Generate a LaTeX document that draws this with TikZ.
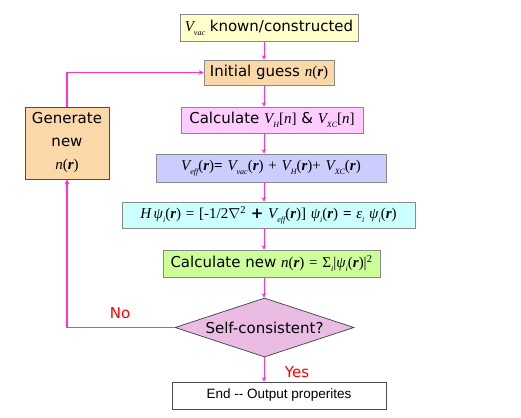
\documentclass[tikz,border=0pt]{standalone}
\usepackage{fontspec}
\setmainfont{DejaVu Sans}
\newfontfamily\tms{Liberation Serif}
\newfontfamily\arl{Liberation Sans}
\usetikzlibrary{shapes.geometric,arrows.meta}
\definecolor{arr}{HTML}{FF33CC}
\definecolor{cyel}{HTML}{FFFFCC}
\definecolor{cora}{HTML}{FBD8A8}
\definecolor{cpink}{HTML}{FFCCFF}
\definecolor{cblue}{HTML}{CCCCFF}
\definecolor{ccyan}{HTML}{CCFFFF}
\definecolor{cgreen}{HTML}{CCFF99}
\definecolor{cdia}{HTML}{EABCE4}
\definecolor{bord}{HTML}{8A8A8A}
\newcommand\mi[1]{{\tms\itshape #1}}
\newcommand\rr{{\tms\bfseries\itshape r}}
\newcommand\sub[1]{\raisebox{-0.45ex}{\fontsize{8}{8}\selectfont\tms\itshape #1}}
\newcommand\pr[1]{{\tms(}#1{\tms)}}
\begin{document}
\begin{tikzpicture}[x=1pt,y=-1pt,
  box/.style={draw=bord, line width=0.7pt, inner sep=0pt, font=\fontsize{15}{17}\selectfont},
  conn/.style={draw=arr, line width=0.7pt, -{Stealth[length=4.5pt,width=4.5pt]}},
  loopc/.style={draw=arr, line width=1.4pt, -{Stealth[length=5pt,width=5pt]}},
  lbl/.style={text=red, font=\fontsize{15}{17}\selectfont, inner sep=0pt}]
\useasboundingbox (0,0) rectangle (521,417);
\coordinate (axis) at (264,0);
\node[box, fill=cyel, minimum width=178pt, minimum height=27pt] (b1) at (269,27.5) {\mi{V}\sub{vac} known/constructed};
\node[box, fill=cora, minimum width=130pt, minimum height=25pt] (b2) at (269,72.5) {Initial guess \mi{n}\pr{\rr}};
\node[box, fill=cpink, minimum width=182pt, minimum height=26pt] (b3) at (272,120) {Calculate \mi{V}\sub{H}{\tms [}\mi{n}{\tms ]} \& \mi{V}\sub{XC}{\tms [}\mi{n}{\tms ]}};
\node[box, fill=cblue, minimum width=230pt, minimum height=28pt] (b4) at (271,168) {\mi{V}\sub{eff}\pr{\rr}{\tms\bfseries =} \mi{V}\sub{vac}\pr{\rr} {\tms +} \mi{V}\sub{H}\pr{\rr}{\tms +} \mi{V}\sub{XC}\pr{\rr}};
\node[box, fill=ccyan, minimum width=293pt, minimum height=26pt] (b5) at (268.5,215) {\mi{H}\,\mi{ψ}\sub{i}\pr{\rr} {\tms =} {\tms [-1/2}$\nabla$\textsuperscript{\tms 2} {\bfseries +} \mi{V}\sub{eff}\pr{\rr}{\tms ]} \mi{ψ}\sub{i}\pr{\rr} {\tms\bfseries =} \mi{ε}\sub{i} \mi{ψ}\sub{i}\pr{\rr}};
\node[box, fill=cgreen, minimum width=217pt, minimum height=27pt] (b6) at (271.5,263.5) {Calculate new \mi{n}\pr{\rr} {\tms =} {\tms Σ}\sub{i}{\tms |}\mi{ψ}\sub{i}\pr{\rr}{\tms |}\textsuperscript{\tms 2}};
\node[box, shape=diamond, fill=cdia, draw=black!75, shape aspect=3.03, minimum width=179pt, minimum height=59pt] (dia) at (264.5,327.5) {Self-consistent?};
\node[box, fill=white, draw=black!70, minimum width=214pt, minimum height=27pt, font=\arl\fontsize{13.5}{15}\selectfont] (end) at (279,395.5) {End -- Output properites};
\node[box, fill=cora, draw=black!70, minimum width=84pt, minimum height=72pt, align=center, font=\fontsize{15}{23}\selectfont] (gen) at (67,143) {Generate\\new\\\mi{n}\pr{\rr}};
\node[lbl] (no) at (120,313) {No};
\node[lbl] (yes) at (297,372) {Yes};
\draw[conn] (b1.south -| axis) -- (b2.north -| axis);
\draw[conn] (b2.south -| axis) -- (b3.north -| axis);
\draw[conn] (b3.south -| axis) -- (b4.north -| axis);
\draw[conn] (b4.south -| axis) -- (b5.north -| axis);
\draw[conn] (b5.south -| axis) -- (b6.north -| axis);
\draw[conn] (b6.south -| axis) -- (dia.north -| axis);
\draw[conn] (dia.south -| axis) -- (end.north -| axis);
\draw[loopc] (dia.west) -- (gen.south |- dia.west) -- (gen.south);
\draw[loopc] (gen.north) |- (b2.west);
\end{tikzpicture}
\end{document}
